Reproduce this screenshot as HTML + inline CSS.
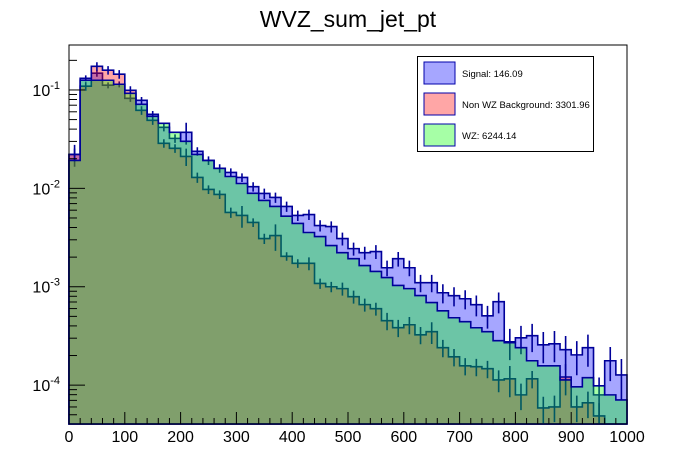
<!DOCTYPE html>
<html><head><meta charset="utf-8"><style>
body{margin:0;background:#fff;}
svg{display:block;font-family:"Liberation Sans",sans-serif;}
</style></head><body>
<svg id="c" width="696" height="472">
<text x="348" y="27" text-anchor="middle" font-size="23">WVZ_sum_jet_pt</text>
<g id="plot"></g>
<g id="axes"></g>
<g>
<rect x="417.5" y="56.5" width="176" height="95" fill="#fff" stroke="#000" stroke-width="1"/>
<rect x="424" y="62" width="31" height="22" fill="#a6a6ff" stroke="#0000aa"/>
<text x="462" y="77" font-size="9.5">Signal: 146.09</text>
<rect x="424" y="93" width="31" height="22" fill="#ffa6a6" stroke="#0000aa"/>
<text x="462" y="108" font-size="9.5">Non WZ Background: 3301.96</text>
<rect x="424" y="124" width="31" height="22" fill="#a6ffa6" stroke="#0000aa"/>
<text x="462" y="139" font-size="9.5">WZ: 6244.14</text>
</g>
</svg>
<script>
const binEdgesStart = 0, binWidth = 20;
const signal = [0.0221,0.1315,0.148,0.1117,0.1143,0.0822,0.0785,0.0566,0.0417,0.0322,0.0371,0.0238,0.0192,0.016,0.0145,0.0129,0.0104,0.00887,0.00808,0.00655,0.0053,0.00542,0.00419,0.00409,0.00309,0.00244,0.00222,0.00228,0.00156,0.00193,0.00156,0.0011,0.0011,0.000869,0.000811,0.000755,0.000657,0.000507,0.000705,0.000276,0.000303,0.000318,0.000257,0.000263,0.000229,0.000203,0.00024,0.0000796,0.000177,0.000127];
const nonWZ = [0.0221,0.1092,0.174,0.159,0.1445,0.0993,0.0621,0.0491,0.0287,0.0255,0.0211,0.0129,0.00975,0.00867,0.00569,0.0053,0.0045,0.00309,0.00331,0.00204,0.00173,0.00173,0.00108,0.001,0.000957,0.000793,0.000658,0.000598,0.000452,0.000384,0.000411,0.000325,0.000349,0.00024,0.000194,0.000157,0.000154,0.000147,0.000113,0.000116,0.0000796,0.000116,0.0000587,0.0000601,0.000121,0.0000601,0.0000661,0.0000486,0,0];
const wz = [0.0192,0.1255,0.1255,0.1255,0.1143,0.0925,0.0715,0.054,0.0458,0.0371,0.0301,0.0221,0.0192,0.016,0.0132,0.0112,0.0089,0.00753,0.00655,0.00521,0.0044,0.00356,0.00324,0.00262,0.00222,0.00193,0.00164,0.00143,0.00124,0.00103,0.000957,0.000813,0.00069,0.00057,0.000484,0.000441,0.000383,0.000349,0.000283,0.00027,0.00024,0.000177,0.000157,0.000157,0.000113,0.0000962,0.000119,0.0000984,0.0000796,0.0000708];
// relative (fractional) errors
const signalErr = [0.25,0.07,0.08,0.07,0.07,0.08,0.08,0.08,0.09,0.1,0.25,0.1,0.1,0.1,0.1,0.1,0.11,0.12,0.12,0.12,0.12,0.12,0.13,0.13,0.15,0.15,0.15,0.16,0.18,0.17,0.18,0.2,0.2,0.22,0.22,0.22,0.24,0.26,0.24,0.35,0.32,0.32,0.35,0.35,0.38,0.38,0.36,0.5,0.38,0.45];
const nonWZErr = [0.15,0.1,0.1,0.1,0.1,0.1,0.1,0.1,0.1,0.1,0.2,0.12,0.1,0.1,0.12,0.25,0.1,0.12,0.3,0.1,0.1,0.15,0.12,0.12,0.15,0.15,0.15,0.15,0.2,0.2,0.2,0.2,0.25,0.2,0.2,0.2,0.2,0.2,0.25,0.35,0.3,0.2,0.3,0.3,0.35,0.3,0.3,0.35,0,0];

const xTicks = [0,100,200,300,400,500,600,700,800,900,1000];
const yDecades = [-1,-2,-3,-4];

const L=69,R=627,T=45,B=424;
const xMin=0,xMax=1000;
const yTop=-0.543, yBot=-4.395;
const NS="http://www.w3.org/2000/svg";
function X(v){return L+(v-xMin)/(xMax-xMin)*(R-L);}
function Y(v){if(!(v>0))return B;const e=Math.log10(v);const y=T+(yTop-e)/(yTop-yBot)*(B-T);return Math.min(B,Math.max(T,y));}
function mk(tag,attrs,parent){const e=document.createElementNS(NS,tag);for(const k in attrs)e.setAttribute(k,attrs[k]);parent.appendChild(e);return e;}
const plot=document.getElementById('plot'), axes=document.getElementById('axes');

function drawHist(vals,errs,fill,name){
  let d=`M${X(binEdgesStart)},${B}`;
  vals.forEach((v,i)=>{const x0=X(binEdgesStart+i*binWidth),x1=X(binEdgesStart+(i+1)*binWidth),y=Y(v);d+=`L${x0},${y}L${x1},${y}`;});
  d+=`L${X(binEdgesStart+vals.length*binWidth)},${B}Z`;
  const f=mk('path',{d:d,fill:fill,'fill-opacity':0.35,stroke:'none'},plot);
  
  
  const l=mk('path',{d:d,fill:'none',stroke:'#000099','stroke-width':1.6},plot);
  
  
  if(errs){
    let ed='';
    vals.forEach((v,i)=>{if(!(v>0)||!errs[i])return;const xc=X(binEdgesStart+(i+0.5)*binWidth);
      ed+=`M${xc},${Y(v*(1+errs[i]))}L${xc},${Y(v*Math.max(0.05,1-errs[i]))}`;});
    const e=mk('path',{d:ed,fill:'none',stroke:'#000099','stroke-width':1.6},plot);
    
    
  }
}
drawHist(signal,signalErr,'#0000ff','signal-hist');
drawHist(nonWZ,nonWZErr,'#ff0000','nonwz-hist');
drawHist(wz,null,'#00ff00','wz-hist');

const frame=mk('rect',{x:L,y:T,width:R-L,height:B-T,fill:'none',stroke:'#000','stroke-width':1},axes);


for(let v=xMin;v<=xMax;v+=20){const major=v%100===0;mk('line',{x1:X(v),x2:X(v),y1:B,y2:B-(major?12:6),stroke:'#000'},axes);}
xTicks.forEach(v=>{const t=mk('text',{x:X(v),y:B+18,'text-anchor':'middle','font-size':16},axes);t.textContent=v;

});
yDecades.forEach(e=>{
  mk('line',{x1:L,x2:L+16,y1:Y(Math.pow(10,e)),y2:Y(Math.pow(10,e)),stroke:'#000'},axes);
  const t=mk('text',{x:L-9,y:Y(Math.pow(10,e))+6,'text-anchor':'end','font-size':16},axes);
  
  
  t.innerHTML='10<tspan dy="-7" font-size="11">'+e+'</tspan>';
});
for(let e=-5;e<=0;e++){for(let m=2;m<=9;m++){const v=m*Math.pow(10,e);const y=Y(v);if(y>T&&y<B)mk('line',{x1:L,x2:L+8,y1:y,y2:y,stroke:'#000'},axes);}}
</script>
</body></html>
